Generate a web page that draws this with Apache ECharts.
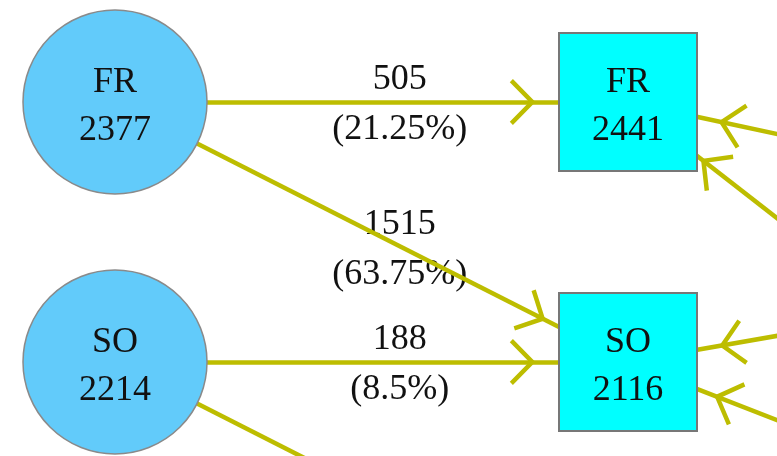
<!DOCTYPE html>
<html>
<head>
<meta charset="utf-8">
<script src="https://cdn.jsdelivr.net/npm/echarts@6/dist/echarts.min.js"></script>
<style>
  html, body { margin: 0; padding: 0; background: #fff; }
  #chart-container { width: 777px; height: 456px; }
</style>
</head>
<body>
<div id="chart-container"></div>
<script>
// nodes (left circles = start class, right boxes = next class)
const nodeIds = ["frStart", "soStart", "frEnd", "soEnd", "jrEnd", "jrStart", "srStart"];
const nodeNames = ["FR", "SO", "FR", "SO", "JR", "JR", "SR"];
const nodeCounts = [2377, 2214, 2441, 2116, null, null, null];
const nodeKinds = ["start", "start", "end", "end", "end", "start", "start"];

// transitions
const edgeFrom = ["frStart", "frStart", "soStart", "soStart", "jrStart", "jrStart", "srStart", "srStart"];
const edgeTo = ["frEnd", "soEnd", "soEnd", "jrEnd", "frEnd", "soEnd", "frEnd", "soEnd"];
const edgeCounts = [505, 1515, 188, null, null, null, null, null];
const edgePcts = ["21.25", "63.75", "8.5", null, null, null, null, null];

// layout grid (column / row of each node), kept apart from the values
const layoutCol = [0, 0, 1, 1, 1, 2.3, 2.3];
const layoutRow = [0, 1, 0, 1, 2, 0.55, 2];

const W = 777, H = 456;
const X0 = 115, DX = 513, Y0 = 102, DY = 260;
const LABEL_T = 0.555;

const serif = "'Liberation Serif', 'DejaVu Serif', serif";
// open chevron, tip pointing up, sitting 25px behind the edge end
const chevron = "path://M50,75 L73,98 L69.8,101.2 L50,81.4 L30.2,101.2 L27,98 Z M0,0 L0.01,0 M100,102 L99.99,102";

const nodes = nodeIds.map((id, i) => {
  const isStart = nodeKinds[i] === "start";
  return {
    id: id,
    name: id,
    value: [layoutCol[i], layoutRow[i]],
    symbol: isStart ? "circle" : "rect",
    symbolSize: isStart ? 184 : 138,
    itemStyle: isStart
      ? { color: "#62CBFA", borderColor: "#8a8a8a", borderWidth: 1.5 }
      : { color: "#00FFFF", borderColor: "#777777", borderWidth: 2 },
    label: {
      show: true,
      position: "inside",
      offset: [0, 5],
      formatter: () => nodeCounts[i] == null ? nodeNames[i] : nodeNames[i] + "\n" + nodeCounts[i],
      fontFamily: serif,
      fontSize: 36,
      lineHeight: 48,
      color: "#111",
    },
  };
});

const links = edgeFrom.map((s, i) => ({ source: s, target: edgeTo[i] }));

const labelPoints = [];
edgeFrom.forEach((s, i) => {
  if (edgeCounts[i] == null) return;
  const a = nodeIds.indexOf(s), b = nodeIds.indexOf(edgeTo[i]);
  labelPoints.push({
    value: [
      layoutCol[a] + LABEL_T * (layoutCol[b] - layoutCol[a]),
      layoutRow[a] + LABEL_T * (layoutRow[b] - layoutRow[a]),
    ],
    text: edgeCounts[i] + "\n(" + edgePcts[i] + "%)",
  });
});

let option = {
  animation: false,
  grid: { left: 0, right: 0, top: 0, bottom: 0 },
  xAxis: { type: "value", show: false, min: -X0 / DX, max: (W - X0) / DX },
  yAxis: { type: "value", show: false, inverse: true, min: -Y0 / DY, max: (H - Y0) / DY },
  series: [
    {
      type: "scatter",
      z: 1,
      silent: true,
      symbolSize: 0,
      itemStyle: { opacity: 1 },
      data: labelPoints,
      label: {
        show: true,
        position: "inside",
        offset: [0, 3],
        formatter: (p) => p.data.text,
        fontFamily: serif,
        fontSize: 36,
        lineHeight: 50,
        color: "#111",
        opacity: 1,
      },
    },
    {
      type: "graph",
      z: 2,
      layout: "none",
      coordinateSystem: "cartesian2d",
      silent: true,
      data: nodes,
      links: links,
      edgeSymbol: ["circle", chevron],
      edgeSymbolSize: [0, 100],
      lineStyle: { color: "#BDBD00", width: 4.5, opacity: 1, curveness: 0 },
      emphasis: { disabled: true },
    },
  ],
};

const paintChart = () => {
  let dom = document.getElementById("chart-container");
  let myChart = echarts.init(dom, null, { renderer: "canvas" });
  myChart.setOption(option);
};
paintChart();
</script>
</body>
</html>
